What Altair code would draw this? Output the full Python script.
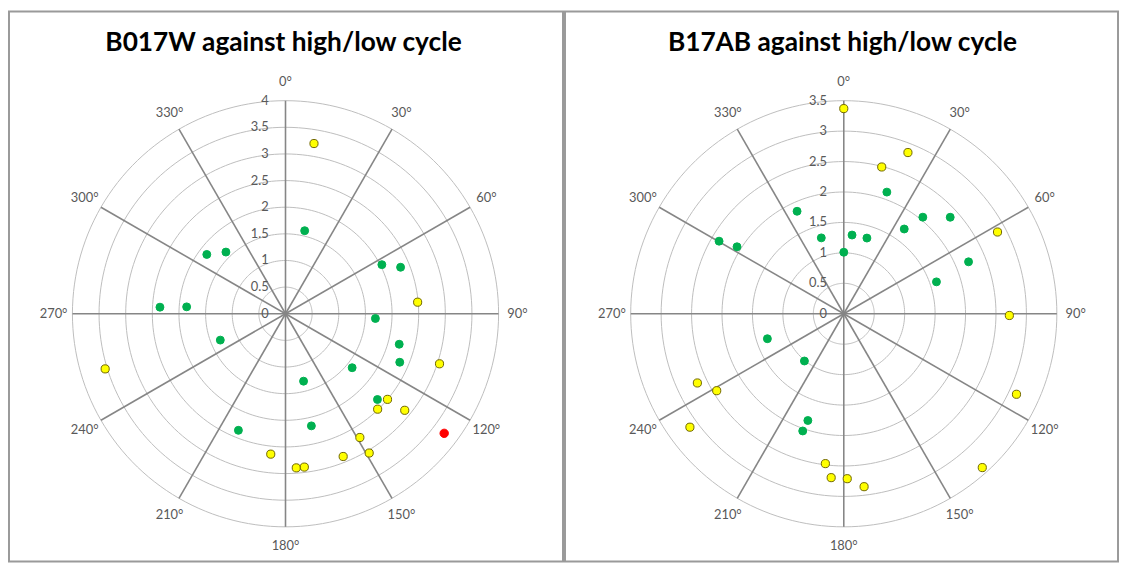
import altair as alt
import numpy as np
import pandas as pd

# ---------------- data ----------------
LEFT_TITLE = "B017W against high/low cycle"
RIGHT_TITLE = "B17AB against high/low cycle"

ANGLE_TICKS = [0, 30, 60, 90, 120, 150, 180, 210, 240, 270, 300, 330]
ANGLE_LABELS = ["0°", "30°", "60°", "90°", "120°", "150°", "180°", "210°", "240°", "270°", "300°", "330°"]

LEFT_RADIAL_TICKS = [0, 0.5, 1, 1.5, 2, 2.5, 3, 3.5, 4]
LEFT_RADIAL_LABELS = ["0", "0.5", "1", "1.5", "2", "2.5", "3", "3.5", "4"]
RIGHT_RADIAL_TICKS = [0, 0.5, 1, 1.5, 2, 2.5, 3, 3.5]
RIGHT_RADIAL_LABELS = ["0", "0.5", "1", "1.5", "2", "2.5", "3", "3.5"]

# left panel (B017W)
left_green_angle = [13, 63, 68, 93, 105, 113, 129, 165, 133, 167, 202, 248, 273, 274, 307, 316]
left_green_r = [1.60, 2.03, 2.33, 1.69, 2.21, 2.33, 1.61, 1.31, 2.36, 2.16, 2.36, 1.32, 2.36, 1.86, 1.85, 1.61]
left_yellow_angle = [9.5, 85, 108, 253, 130, 136, 129, 149, 149, 158, 186, 176, 173]
left_yellow_r = [3.24, 2.49, 3.04, 3.54, 2.50, 2.49, 2.88, 2.71, 3.05, 2.89, 2.65, 2.90, 2.90]
left_red_angle = [127]
left_red_r = [3.73]

# right panel (B17AB)
right_green_angle = [0, 6, 17, 19.5, 35.5, 39.3, 47.8, 67.4, 71, 343.5, 335.5, 300.2, 302.1, 251.9, 219.8, 198.6, 199.3]
right_green_r = [1.01, 1.30, 1.30, 2.12, 1.71, 2.05, 2.36, 2.22, 1.61, 1.30, 1.85, 2.37, 2.07, 1.32, 1.01, 1.85, 2.04]
right_yellow_angle = [0, 14.5, 21.7, 62, 90.6, 115, 138, 187, 184.4, 178.8, 173.3, 244.7, 238.8, 233.6]
right_yellow_r = [3.37, 2.49, 2.85, 2.86, 2.72, 3.13, 3.40, 2.48, 2.70, 2.71, 2.86, 2.66, 2.44, 3.14]

SERIES = ["green", "yellow", "red"]
FILLS = ["#00B050", "#FFFF00", "#FF0000"]
STROKES = ["#00B050", "#6f6500", "#FF0000"]

FONT = "Lato"
LABEL_COLOR = "#595959"


def panel(title, rmax, ticks, tick_labels, pts, width, height, cx, cy, R, title_x):
    k = R / rmax
    xs = alt.Scale(domain=[-cx / k, (width - cx) / k], nice=False, zero=False)
    ys = alt.Scale(domain=[-(height - cy) / k, cy / k], nice=False, zero=False)
    X = lambda f: alt.X(f, type="quantitative", scale=xs, axis=None)
    Y = lambda f: alt.Y(f, type="quantitative", scale=ys, axis=None)

    # rings
    ring_rows = [{"r": r, "a": a} for r in ticks[1:] for a in range(0, 361, 2)]
    rings = (
        alt.Chart(pd.DataFrame(ring_rows))
        .transform_calculate(x="datum.r*sin(datum.a*PI/180)", y="datum.r*cos(datum.a*PI/180)")
        .mark_line(stroke="#bdbdbd", strokeWidth=1)
        .encode(x=X("x"), y=Y("y"), detail="r:N", order="a:Q")
    )

    spoke_df = pd.DataFrame({"a": ANGLE_TICKS, "label": ANGLE_LABELS})
    spokes = (
        alt.Chart(spoke_df)
        .transform_calculate(
            x0="0", y0="0",
            x2=f"{rmax}*sin(datum.a*PI/180)", y2=f"{rmax}*cos(datum.a*PI/180)",
        )
        .mark_rule(color="#868686", strokeWidth=1.6)
        .encode(x=X("x0"), y=Y("y0"), x2="x2:Q", y2="y2:Q")
    )

    rl = rmax * (R + 19) / R
    angle_text = (
        alt.Chart(spoke_df)
        .transform_calculate(x=f"{rl}*sin(datum.a*PI/180)", y=f"{rl}*cos(datum.a*PI/180)")
        .mark_text(font=FONT, fontSize=13, color=LABEL_COLOR, align="center", baseline="middle")
        .encode(x=X("x"), y=Y("y"), text="label:N")
    )

    rad_df = pd.DataFrame({"v": ticks, "label": tick_labels})
    radial_text = (
        alt.Chart(rad_df)
        .transform_calculate(x="0")
        .mark_text(font=FONT, fontSize=13, color=LABEL_COLOR, align="right", baseline="middle", dx=-17)
        .encode(x=X("x"), y=Y("v"), text="label:N")
    )

    points = (
        alt.Chart(pts)
        .transform_calculate(x="datum.r*sin(datum.a*PI/180)", y="datum.r*cos(datum.a*PI/180)")
        .mark_circle(opacity=1, strokeWidth=1)
        .encode(
            x=X("x"), y=Y("y"),
            fill=alt.Fill("series:N", scale=alt.Scale(domain=SERIES, range=FILLS), legend=None),
            stroke=alt.Stroke("series:N", scale=alt.Scale(domain=SERIES, range=STROKES), legend=None),
            size=alt.Size("series:N", scale=alt.Scale(domain=SERIES, range=[64, 72, 68]), legend=None),
        )
    )

    title_mark = (
        alt.Chart(pd.DataFrame({"t": [title]}))
        .mark_text(font=FONT, fontSize=26.5, fontWeight="bold", color="black", align="center", baseline="middle")
        .encode(text="t:N", x=alt.value(title_x), y=alt.value(32))
    )

    return alt.layer(rings, spokes, angle_text, radial_text, points, title_mark).properties(
        width=width, height=height
    )


def frame(gs, ga, ys_, ya, rs, ra):
    rows = []
    for a, r in zip(ga, gs):
        rows.append({"a": a, "r": r, "series": "green"})
    for a, r in zip(ya, ys_):
        rows.append({"a": a, "r": r, "series": "yellow"})
    for a, r in zip(ra, rs):
        rows.append({"a": a, "r": r, "series": "red"})
    return pd.DataFrame(rows)


left_pts = frame(left_green_r, left_green_angle, left_yellow_r, left_yellow_angle, left_red_r, left_red_angle)
right_pts = frame(right_green_r, right_green_angle, right_yellow_r, right_yellow_angle, [], [])

left = panel(LEFT_TITLE, 4, LEFT_RADIAL_TICKS, LEFT_RADIAL_LABELS, left_pts,
             559, 555, 279, 305, 215, 277)
right = panel(RIGHT_TITLE, 3.5, RIGHT_RADIAL_TICKS, RIGHT_RADIAL_LABELS, right_pts,
              558, 555, 281.3, 305, 215, 280)

chart = (
    alt.hconcat(left, right, spacing=0)
    .properties(padding=0, background="white")
    .configure_view(stroke="#9a9a9a", strokeWidth=2)
)

chart.save("out.html", embed_options={"renderer": "svg", "actions": False})
